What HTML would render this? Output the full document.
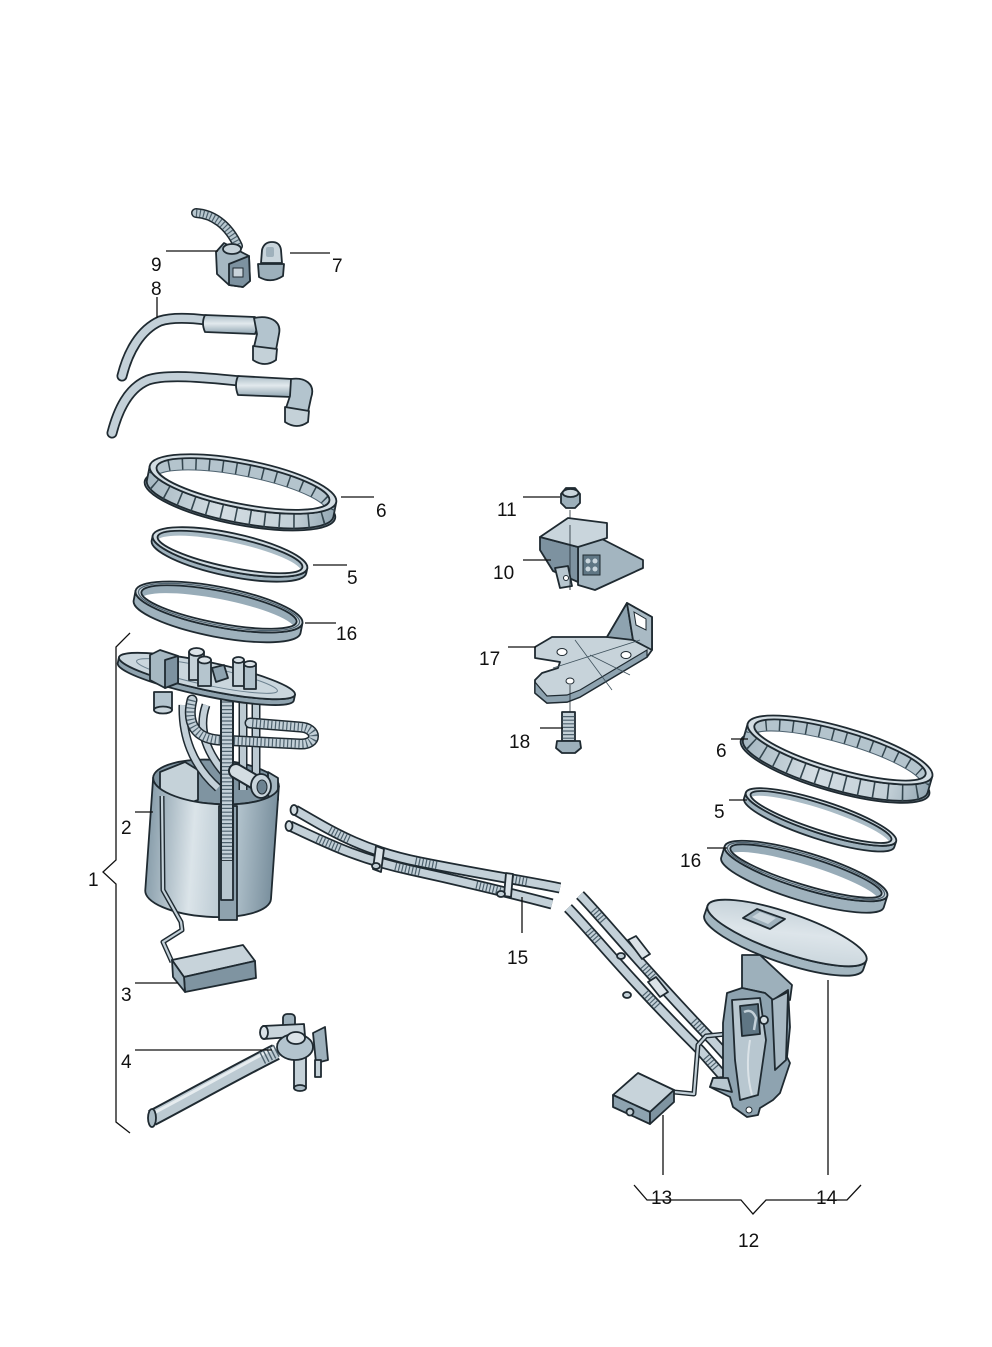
<!DOCTYPE html>
<html><head><meta charset="utf-8">
<style>
html,body{margin:0;padding:0;background:#fff}
svg{display:block}
.o{stroke:#1f2a31;stroke-width:1.8;stroke-linejoin:round;stroke-linecap:round}
.t{font-family:"Liberation Sans",sans-serif;font-size:19px;fill:#111}
.l{stroke:#111;stroke-width:1.3;fill:none}
</style></head><body>
<svg width="992" height="1347" viewBox="0 0 992 1347" xmlns="http://www.w3.org/2000/svg">
<defs>
<linearGradient id="cyl" x1="0" x2="1" y1="0" y2="0">
<stop offset="0" stop-color="#8a9fac"/><stop offset=".35" stop-color="#dbe4e9"/><stop offset=".7" stop-color="#b0c1cb"/><stop offset="1" stop-color="#7a909e"/></linearGradient>
<linearGradient id="vg" x1="0" x2="0" y1="0" y2="1">
<stop offset="0" stop-color="#a9bbc5"/><stop offset=".45" stop-color="#e2e9ed"/><stop offset="1" stop-color="#90a5b2"/></linearGradient>
<linearGradient id="disk" x1="0" x2="1" y1="0" y2="1">
<stop offset="0" stop-color="#bccad2"/><stop offset=".5" stop-color="#dde5ea"/><stop offset="1" stop-color="#c4d1d8"/></linearGradient>
<linearGradient id="band" x1="0" x2="1" y1="0" y2="0">
<stop offset="0" stop-color="#a5b7c1"/><stop offset=".4" stop-color="#d3dde3"/><stop offset=".8" stop-color="#c3d0d7"/><stop offset="1" stop-color="#94a8b4"/></linearGradient>

<clipPath id="c6a"><path d="M148,484 L148,499 A95 24 0 0 0 338,499 L338,484 A95 24 0 0 1 148,484 Z"/></clipPath>
<clipPath id="h6a"><ellipse cx="243" cy="484" rx="88" ry="20"/></clipPath>
<clipPath id="h5a"><ellipse cx="230" cy="552" rx="74" ry="15"/></clipPath>
<clipPath id="h16a"><ellipse cx="219" cy="607" rx="79" ry="16"/></clipPath>
<clipPath id="c6b"><path d="M744,750 L744,767 A96 23 0 0 0 936,767 L936,750 A96 23 0 0 1 744,750 Z"/></clipPath>
<clipPath id="h6b"><ellipse cx="840" cy="750" rx="89" ry="19"/></clipPath>
<clipPath id="h5b"><ellipse cx="821" cy="817" rx="74" ry="13"/></clipPath>
<clipPath id="h16b"><ellipse cx="806" cy="871" rx="79" ry="14"/></clipPath>
</defs>

<rect width="992" height="1347" fill="#fff"/>

<!-- Part 9 connector -->
<path d="M196,213 C212,214 228,224 238,246" fill="none" stroke="#1f2a31" stroke-width="10" stroke-linecap="round"/>
<path d="M196,213 C212,214 228,224 238,246" fill="none" stroke="#b9c8d0" stroke-width="7" stroke-linecap="round"/>
<path d="M196,213 C212,214 228,224 238,246" fill="none" stroke="#4d616d" stroke-width="7" stroke-dasharray="1.2 2.4"/>
<polygon class="o" fill="#a6b8c2" points="216,252 224,243 249,256 250,281 243,287 229,285 217,274"/>
<polygon class="o" fill="#7d92a0" points="229,264 249,256 250,281 243,287 229,285"/>
<rect x="233" y="268" width="10" height="9" fill="#c8d3da" stroke="#1f2a31" stroke-width="1"/>
<ellipse class="o" cx="232" cy="249" rx="9" ry="5" fill="#c6d2d9"/>

<!-- Part 7 cap -->
<path class="o" fill="#c9d5dc" d="M261,263 L262,250 Q264,242 272,242 Q280,242 281,250 L282,263 Z"/>
<rect x="266" y="247" width="8" height="10" rx="2" fill="#9fb1bc"/>
<path class="o" fill="#9db0bb" d="M258,264 L284,264 L283,276 Q271,284 259,277 Z"/>

<!-- Part 8 hoses -->
<path d="M122,376 C128,352 140,330 160,321 C172,317 190,318 207,320" fill="none" stroke="#1f2a31" stroke-width="11" stroke-linecap="round"/>
<path d="M122,376 C128,352 140,330 160,321 C172,317 190,318 207,320" fill="none" stroke="#c3d0d8" stroke-width="7.5" stroke-linecap="round"/>
<path class="o" fill="url(#vg)" d="M205,315 L255,317 Q259,325 255,334 L205,332 Q201,323 205,315 Z"/>
<path class="o" fill="#b3c4ce" d="M254,318 C268,315 282,320 279,334 L276,350 L254,347 L257,334 Z"/>
<path class="o" fill="#c4d1d8" d="M253,346 L277,349 L276,360 Q265,368 253,360 Z"/>

<path d="M112,433 C118,410 128,388 148,380 C166,374 200,377 240,381" fill="none" stroke="#1f2a31" stroke-width="11" stroke-linecap="round"/>
<path d="M112,433 C118,410 128,388 148,380 C166,374 200,377 240,381" fill="none" stroke="#c3d0d8" stroke-width="7.5" stroke-linecap="round"/>
<path class="o" fill="url(#vg)" d="M238,376 L292,379 Q296,388 292,397 L238,395 Q234,385 238,376 Z"/>
<path class="o" fill="#b3c4ce" d="M291,379 C305,377 316,384 311,398 L308,412 L286,408 L290,396 Z"/>
<path class="o" fill="#c4d1d8" d="M285,407 L309,411 L308,422 Q297,430 285,422 Z"/>

<!-- Ring 6 left -->
<g transform="rotate(11 243 484)">
<ellipse class="o" cx="243" cy="500" rx="97" ry="25" fill="#8fa3af"/>
<path class="o" fill="url(#band)" d="M148,484 L148,499 A95 24 0 0 0 338,499 L338,484 A95 24 0 0 1 148,484 Z"/>
<ellipse cx="243" cy="491.5" rx="95" ry="24" fill="none" stroke="#34464f" stroke-width="15" stroke-dasharray="1.6 13" clip-path="url(#c6a)"/>
<ellipse class="o" cx="243" cy="484" rx="95" ry="24" fill="#d3dde3"/>
<ellipse cx="243" cy="484" rx="88" ry="20" fill="#b4c4cd"/>
<ellipse cx="243" cy="490" rx="88" ry="20" fill="none" stroke="#34464f" stroke-width="12" stroke-dasharray="1.5 12" clip-path="url(#h6a)"/>
<ellipse cx="243" cy="496" rx="88" ry="20" fill="#fff" clip-path="url(#h6a)"/>
<ellipse cx="243" cy="496" rx="88" ry="20" fill="none" stroke="#4f6370" stroke-width="1" clip-path="url(#h6a)"/>
<ellipse class="o" cx="243" cy="484" rx="88" ry="20" fill="none"/>
</g>

<!-- Ring 5 left -->
<g transform="rotate(12 230 552)">
<path class="o" fill="#9fb2bd" d="M151,552 L151,557 A79 19 0 0 0 309,557 L309,552 A79 19 0 0 1 151,552 Z"/>
<ellipse class="o" cx="230" cy="552" rx="79" ry="19" fill="#cfdae0"/>
<ellipse cx="230" cy="552" rx="74" ry="15" fill="#a9bbc5"/>
<ellipse cx="230" cy="557" rx="74" ry="15" fill="#fff" clip-path="url(#h5a)"/>
<ellipse class="o" cx="230" cy="552" rx="74" ry="15" fill="none"/>
</g>

<!-- Ring 16 left -->
<g transform="rotate(11 219 607)">
<path class="o" fill="#9fb2bd" d="M134,607 L134,617 A85 20 0 0 0 304,617 L304,607 A85 20 0 0 1 134,607 Z"/>
<ellipse class="o" cx="219" cy="607" rx="85" ry="20" fill="#cbd6dd"/>
<ellipse cx="219" cy="607" rx="79" ry="16" fill="#98acb8"/>
<ellipse cx="219" cy="615" rx="79" ry="16" fill="#fff" clip-path="url(#h16a)"/>
<ellipse class="o" cx="219" cy="607" rx="79" ry="16" fill="none"/>
<ellipse cx="219" cy="607" rx="82" ry="18" fill="none" stroke="#4f6370" stroke-width="1.2"/>
</g>

<!-- Part 2 pump: cylinder interior -->
<g transform="rotate(4 216 782)">
<ellipse class="o" cx="216" cy="782" rx="63" ry="22" fill="#7f94a1"/>
</g>
<polygon class="o" fill="#c5d2d9" points="160,772 185,762 198,770 198,800 175,808 160,800"/>
<polygon class="o" fill="#a4b6c0" points="268,772 278,778 278,800 268,796"/>

<!-- hoses under flange -->
<path d="M183,705 C182,735 192,765 218,788" fill="none" stroke="#1f2a31" stroke-width="9"/>
<path d="M183,705 C182,735 192,765 218,788" fill="none" stroke="#c3d0d8" stroke-width="6"/>
<path d="M206,705 C198,728 205,752 228,777" fill="none" stroke="#1f2a31" stroke-width="9"/>
<path d="M206,705 C198,728 205,752 228,777" fill="none" stroke="#c3d0d8" stroke-width="6"/>
<path d="M243,700 V790 M256,700 V790" fill="none" stroke="#1f2a31" stroke-width="9"/>
<path d="M243,700 V790 M256,700 V790" fill="none" stroke="#bccad2" stroke-width="6"/>
<path d="M192,700 C186,724 196,738 218,740 L300,744 C318,745 318,728 300,727 L250,723" fill="none" stroke="#1f2a31" stroke-width="11" stroke-linecap="round"/>
<path d="M192,700 C186,724 196,738 218,740 L300,744 C318,745 318,728 300,727 L250,723" fill="none" stroke="#c3d0d8" stroke-width="8" stroke-linecap="round"/>
<path d="M192,700 C186,724 196,738 218,740 L300,744 C318,745 318,728 300,727 L250,723" fill="none" stroke="#4d616d" stroke-width="8" stroke-dasharray="1.2 2.6"/>

<!-- cylinder front wall -->
<g transform="rotate(4 216 782)">
<path class="o" fill="url(#cyl)" d="M153,782 L153,895 A63 22 0 0 0 279,895 L279,782 A63 22 0 0 1 153,782 Z"/>
</g>
<rect class="o" x="219" y="806" width="18" height="114" fill="#8ea2ae"/>
<rect class="o" x="221" y="860" width="12" height="40" fill="#b8c7cf"/>
<path d="M227,690 V860" stroke="#1f2a31" stroke-width="14"/>
<path d="M227,690 V860" stroke="#c3d0d8" stroke-width="10"/>
<path d="M227,690 V860" stroke="#4d616d" stroke-width="10" stroke-dasharray="1.2 2.6"/>
<!-- fitting -->
<path d="M236,771 L260,785" stroke="#1f2a31" stroke-width="16" stroke-linecap="round"/>
<path d="M236,771 L260,785" stroke="#d3dde2" stroke-width="12" stroke-linecap="round"/>
<ellipse class="o" cx="261" cy="786" rx="10" ry="12" fill="#c9d5dc"/>
<ellipse cx="262" cy="787" rx="5" ry="7" fill="#6d8391" stroke="#1f2a31" stroke-width="1"/>

<!-- pump flange -->
<g transform="rotate(12 207 676)">
<path class="o" fill="#8fa3af" d="M117,676 L117,682 A90 14 0 0 0 297,682 L297,676 A90 14 0 0 1 117,676 Z"/>
<ellipse class="o" cx="207" cy="676" rx="90" ry="14" fill="#cad6dd"/>
<ellipse cx="207" cy="676" rx="72" ry="9" fill="none" stroke="#6d8290" stroke-width="1"/>
</g>
<polygon class="o" fill="#a6b8c2" points="150,655 160,650 178,656 178,683 165,688 150,680"/>
<polygon class="o" fill="#7d92a0" points="165,660 178,656 178,683 165,688"/>
<rect class="o" x="189" y="652" width="15" height="28" fill="#c4d1d8"/>
<ellipse class="o" cx="196.5" cy="652" rx="7.5" ry="4" fill="#dbe3e8"/>
<rect class="o" x="198" y="660" width="13" height="26" fill="#b5c5ce"/>
<ellipse class="o" cx="204.5" cy="660" rx="6.5" ry="3.5" fill="#dbe3e8"/>
<polygon class="o" fill="#8ea3b0" points="212,668 224,665 228,678 216,682"/>
<rect class="o" x="233" y="660" width="11" height="26" fill="#c4d1d8"/>
<ellipse class="o" cx="238.5" cy="660" rx="5.5" ry="3" fill="#dbe3e8"/>
<rect class="o" x="244" y="664" width="12" height="25" fill="#b0c1cb"/>
<ellipse class="o" cx="250" cy="664" rx="6" ry="3" fill="#dbe3e8"/>
<rect class="o" x="154" y="692" width="18" height="18" fill="#b3c4ce"/>
<ellipse class="o" cx="163" cy="710" rx="9" ry="3.5" fill="#c8d4db"/>

<!-- Part 3 float -->
<polyline points="162,796 163,890 181,922 182,930 163,942 172,962" fill="none" stroke="#1f2a31" stroke-width="5" stroke-linejoin="round"/>
<polyline points="162,796 163,890 181,922 182,930 163,942 172,962" fill="none" stroke="#c3d0d8" stroke-width="2.2" stroke-linejoin="round"/>
<polygon class="o" fill="#c7d3da" points="172,960 243,945 255,961 184,977"/>
<polygon class="o" fill="#7f94a1" points="184,977 255,961 256,978 185,992"/>
<polygon class="o" fill="#9cafba" points="172,960 184,977 185,992 173,977"/>

<!-- Part 4 -->
<path d="M152,1118 C190,1098 240,1070 276,1052" fill="none" stroke="#1f2a31" stroke-width="17"/>
<path d="M152,1118 C190,1098 240,1070 276,1052" fill="none" stroke="#bccad2" stroke-width="13"/>
<path d="M152,1114 C190,1094 240,1066 274,1048" fill="none" stroke="#e6ecef" stroke-width="3"/>
<path d="M262,1058 L280,1049" stroke="#4d616d" stroke-width="13" stroke-dasharray="1.4 2.4"/>
<ellipse class="o" cx="152" cy="1118" rx="4" ry="9" fill="#aabbc4"/>
<rect class="o" x="283" y="1014" width="12" height="28" rx="4" fill="#9db0bb"/>
<path class="o" fill="#c9d5dc" d="M263,1026 L304,1024 L305,1036 L264,1039 Z"/>
<ellipse class="o" cx="264" cy="1032.5" rx="4" ry="6.5" fill="#dbe3e8"/>
<rect class="o" x="294" y="1055" width="12" height="33" fill="#c4d1d8"/>
<ellipse class="o" cx="300" cy="1088" rx="6" ry="3" fill="#a9bac4"/>
<ellipse class="o" cx="295" cy="1047" rx="18" ry="13" fill="#b3c4ce"/>
<ellipse class="o" cx="296" cy="1038" rx="9" ry="6" fill="#dbe3e8"/>
<polygon class="o" fill="#9db0bb" points="313,1033 325,1027 328,1060 316,1063"/>
<rect class="o" x="315" y="1060" width="6" height="17" fill="#c4d1d8"/>

<!-- Part 11 nut -->
<polygon class="o" fill="#9db0bb" points="561,494 566,488 575,488 580,494 580,503 575,508 566,508 561,503"/>
<ellipse class="o" cx="570.5" cy="493" rx="8" ry="4" fill="#c9d5dc"/>
<path d="M570,510 V590" stroke="#1f2a31" stroke-width="0.8"/>

<!-- Part 10 -->
<polygon class="o" fill="#a3b5c0" points="600,538 643,560 643,568 595,590 578,585 578,547"/>
<polygon class="o" fill="#7d92a0" points="540,537 578,547 578,582 553,571 540,550"/>
<polygon class="o" fill="#c9d5dc" points="540,537 568,518 607,523 607,538 578,547"/>
<rect x="583" y="555" width="17" height="20" fill="#5f7684" stroke="#1f2a31" stroke-width="1"/>
<circle cx="588" cy="561" r="2.5" fill="#c9d5dc"/><circle cx="595" cy="561" r="2.5" fill="#c9d5dc"/>
<circle cx="588" cy="569" r="2.5" fill="#c9d5dc"/><circle cx="595" cy="569" r="2.5" fill="#c9d5dc"/>
<polygon class="o" fill="#b7c6cf" points="555,568 568,566 572,586 560,588"/>
<circle cx="566" cy="578" r="2.5" fill="#fff" stroke="#1f2a31" stroke-width="1"/>
<path d="M570,525 V590" stroke="#1f2a31" stroke-width="0.8"/>

<!-- Part 17 -->
<polygon class="o" fill="#c7d3da" points="535,647 552,637 607,637 627,603 652,617 652,650 647,657 580,697 567,702 547,703 535,693 535,680 542,673 558,668 560,662 535,658"/>
<polygon fill="#8ea3b0" stroke="#1f2a31" stroke-width="1.2" points="535,682 535,693 547,703 567,702 580,697 647,657 647,650 580,690 567,695 547,696 540,688"/>
<polygon class="o" fill="#8ea3b0" points="607,637 627,603 633,640"/>
<polygon class="o" fill="#a9bac4" points="627,603 652,617 652,650 633,640"/>
<polygon fill="#fff" stroke="#1f2a31" stroke-width="1" points="634,612 646,619 646,630 636,625"/>
<path d="M575,640 L612,690 M553,668 L640,640 M590,655 L630,675" stroke="#3f525d" stroke-width="0.8" fill="none"/>
<ellipse cx="562" cy="652" rx="5" ry="3.5" fill="#fff" stroke="#1f2a31" stroke-width="1"/>
<ellipse cx="626" cy="655" rx="5" ry="3.5" fill="#fff" stroke="#1f2a31" stroke-width="1"/>
<ellipse cx="570" cy="681" rx="4" ry="3" fill="#fff" stroke="#1f2a31" stroke-width="1"/>
<path d="M570,685 V712" stroke="#1f2a31" stroke-width="0.8"/>

<!-- Part 18 bolt -->
<rect class="o" x="562" y="712" width="13" height="29" fill="#c4d1d8"/>
<path d="M568.5,716 V740" stroke="#4d616d" stroke-width="12" stroke-dasharray="1.2 2.4"/>
<polygon class="o" fill="#9db0bb" points="557,741 580,741 581,748 575,753 562,753 556,748"/>

<!-- Part 15 hose, segment 1 -->
<g fill="none">
<path d="M295,810 C330,830 360,850 420,862 S520,880 560,888" stroke="#1f2a31" stroke-width="11"/>
<path d="M295,810 C330,830 360,850 420,862 S520,880 560,888" stroke="#c3d0d8" stroke-width="7.5"/>
<path d="M295,810 C330,830 360,850 420,862 S520,880 560,888" stroke="#4d616d" stroke-width="7.5" stroke-dasharray="0 40 1.2 2.2 1.2 2.2 1.2 2.2 1.2 2.2 1.2 2.2 1.2 2.2 1.2 30"/>
<path d="M290,826 C325,842 355,858 410,870 S510,893 552,904" stroke="#1f2a31" stroke-width="11"/>
<path d="M290,826 C325,842 355,858 410,870 S510,893 552,904" stroke="#c3d0d8" stroke-width="7.5"/>
<path d="M290,826 C325,842 355,858 410,870 S510,893 552,904" stroke="#4d616d" stroke-width="7.5" stroke-dasharray="0 30 1.2 2.2 1.2 2.2 1.2 2.2 1.2 2.2 1.2 2.2 1.2 2.2 1.2 2.2 1.2 28"/>
</g>
<ellipse class="o" cx="294" cy="810" rx="3.5" ry="5" fill="#d3dde2"/>
<ellipse class="o" cx="289" cy="826" rx="3.5" ry="5" fill="#d3dde2"/>
<path class="o" fill="#dbe3e8" d="M376,846 L384,849 L381,872 L373,869 Z"/>
<ellipse class="o" cx="376" cy="866" rx="4" ry="3" fill="#c4d1d8"/>
<path class="o" fill="#dbe3e8" d="M506,873 L513,874 L511,897 L504,896 Z"/>
<ellipse class="o" cx="501" cy="894" rx="4" ry="3" fill="#c4d1d8"/>

<!-- Part 15 hose, segment 2 -->
<g fill="none">
<path d="M580,895 C600,915 640,965 712,1040 L730,1060" stroke="#1f2a31" stroke-width="11"/>
<path d="M580,895 C600,915 640,965 712,1040 L730,1060" stroke="#c3d0d8" stroke-width="7.5"/>
<path d="M580,895 C600,915 640,965 712,1040 L730,1060" stroke="#4d616d" stroke-width="7.5" stroke-dasharray="0 20 1.2 2.2 1.2 2.2 1.2 2.2 1.2 2.2 1.2 60 1.2 2.2 1.2 2.2 1.2 2.2 1.2 2.2 1.2 40"/>
<path d="M568,908 C590,930 625,975 700,1050 L722,1075" stroke="#1f2a31" stroke-width="11"/>
<path d="M568,908 C590,930 625,975 700,1050 L722,1075" stroke="#c3d0d8" stroke-width="7.5"/>
<path d="M568,908 C590,930 625,975 700,1050 L722,1075" stroke="#4d616d" stroke-width="7.5" stroke-dasharray="0 30 1.2 2.2 1.2 2.2 1.2 2.2 1.2 2.2 1.2 70 1.2 2.2 1.2 2.2 1.2 2.2 1.2 2.2 1.2 2.2 1.2 40"/>
</g>
<path class="o" fill="#dbe3e8" d="M628,940 L636,936 L650,954 L642,959 Z"/>
<ellipse class="o" cx="621" cy="956" rx="4" ry="3" fill="#c4d1d8"/>
<path class="o" fill="#dbe3e8" d="M648,982 L656,977 L668,992 L660,997 Z"/>
<ellipse class="o" cx="627" cy="995" rx="4" ry="3" fill="#c4d1d8"/>

<!-- Part 13 float -->
<polyline points="674,1092 694,1094 698,1045 706,1036 726,1034" fill="none" stroke="#1f2a31" stroke-width="5" stroke-linejoin="round"/>
<polyline points="674,1092 694,1094 698,1045 706,1036 726,1034" fill="none" stroke="#c3d0d8" stroke-width="2.2" stroke-linejoin="round"/>
<polygon class="o" fill="#c7d3da" points="613,1095 638,1073 674,1090 650,1112"/>
<polygon class="o" fill="#8ea3b0" points="613,1095 650,1112 650,1124 613,1107"/>
<polygon class="o" fill="#7f94a1" points="650,1112 674,1090 674,1102 650,1124"/>
<circle class="o" cx="630" cy="1112" r="3.5" fill="#c4d1d8"/>

<!-- Part 14 sender body -->
<polygon class="o" fill="#9db0bb" points="742,955 760,955 792,985 790,1000 773,1000 765,993 742,988"/>
<polygon class="o" fill="#8ea3b0" points="723,1023 727,993 742,988 765,993 773,1000 788,990 790,1027 787,1057 790,1063 780,1093 773,1100 760,1108 758,1115 747,1117 733,1107 730,1097 710,1087 713,1078 723,1077"/>
<polygon class="o" fill="#b8c7d0" points="732,1000 760,998 766,1040 758,1095 740,1100 735,1060"/>
<path class="o" fill="#5f7684" d="M740,1006 L758,1004 L760,1034 L742,1036 Z"/>
<path d="M744,1012 Q752,1008 756,1018 L754,1030" stroke="#c3d0d8" stroke-width="2.5" fill="none"/>
<circle class="o" cx="764" cy="1020" r="4" fill="#d3dde2"/>
<polygon class="o" fill="#a9bac4" points="772,1000 788,992 786,1060 775,1070"/>
<path d="M750,1040 Q745,1070 752,1095" stroke="#dbe3e8" stroke-width="2" fill="none"/>
<polygon class="o" fill="#b8c7d0" points="710,1087 713,1078 728,1078 732,1092"/>
<circle cx="749" cy="1110" r="3" fill="#fff" stroke="#1f2a31" stroke-width="1"/>

<!-- Flange 14 disk -->
<g transform="rotate(19 787 933)">
<path class="o" fill="#a3b6c0" d="M703,933 L703,943 A84 20 0 0 0 871,943 L871,933 A84 20 0 0 1 703,933 Z"/>
<ellipse class="o" cx="787" cy="933" rx="84" ry="20" fill="url(#disk)"/>
</g>
<polygon class="o" fill="#9fb1bc" points="743,918 757,909 785,919 770,929"/>
<polygon fill="#c9d5dc" points="752,917 760,912 776,918 768,924"/>

<!-- Ring 16 right -->
<g transform="rotate(17 806 871)">
<path class="o" fill="#9fb2bd" d="M721,871 L721,883 A85 18 0 0 0 891,883 L891,871 A85 18 0 0 1 721,871 Z"/>
<ellipse class="o" cx="806" cy="871" rx="85" ry="18" fill="#cbd6dd"/>
<ellipse cx="806" cy="871" rx="79" ry="14" fill="#98acb8"/>
<ellipse cx="806" cy="879" rx="79" ry="14" fill="#fff" clip-path="url(#h16b)"/>
<ellipse class="o" cx="806" cy="871" rx="79" ry="14" fill="none"/>
<ellipse cx="806" cy="871" rx="82" ry="16" fill="none" stroke="#4f6370" stroke-width="1.2"/>
</g>

<!-- Ring 5 right -->
<g transform="rotate(18 821 817)">
<path class="o" fill="#9fb2bd" d="M742,817 L742,823 A79 16 0 0 0 900,823 L900,817 A79 16 0 0 1 742,817 Z"/>
<ellipse class="o" cx="821" cy="817" rx="79" ry="16" fill="#cfdae0"/>
<ellipse cx="821" cy="817" rx="74" ry="13" fill="#a9bbc5"/>
<ellipse cx="821" cy="822" rx="74" ry="13" fill="#fff" clip-path="url(#h5b)"/>
<ellipse class="o" cx="821" cy="817" rx="74" ry="13" fill="none"/>
</g>

<!-- Ring 6 right -->
<g transform="rotate(16 840 750)">
<ellipse class="o" cx="840" cy="768" rx="98" ry="24" fill="#8fa3af"/>
<path class="o" fill="url(#band)" d="M744,750 L744,767 A96 23 0 0 0 936,767 L936,750 A96 23 0 0 1 744,750 Z"/>
<ellipse cx="840" cy="758.5" rx="96" ry="23" fill="none" stroke="#34464f" stroke-width="17" stroke-dasharray="1.6 13" clip-path="url(#c6b)"/>
<ellipse class="o" cx="840" cy="750" rx="96" ry="23" fill="#d3dde3"/>
<ellipse cx="840" cy="750" rx="89" ry="19" fill="#b4c4cd"/>
<ellipse cx="840" cy="756" rx="89" ry="19" fill="none" stroke="#34464f" stroke-width="12" stroke-dasharray="1.5 12" clip-path="url(#h6b)"/>
<ellipse cx="840" cy="762" rx="89" ry="19" fill="#fff" clip-path="url(#h6b)"/>
<ellipse cx="840" cy="762" rx="89" ry="19" fill="none" stroke="#4f6370" stroke-width="1" clip-path="url(#h6b)"/>
<ellipse class="o" cx="840" cy="750" rx="89" ry="19" fill="none"/>
</g>

<!-- leader lines -->
<path class="l" d="M166,251 H218 M290,253 H330 M157,297 V318 M341,497 H374 M313,565 H347 M305,623 H336 M523,497 H560 M523,560 H551 M508,647 H536 M540,728 H563 M731,739 H748 M729,800 H747 M707,848 H727 M135,812 H153 M135,983 H178 M135,1050 H272 M522,897 V933 M663,1115 V1175 M828,980 V1175"/>
<path class="l" d="M634,1185 L647,1200 H741 L753,1214 L766,1200 H847 L861,1185"/>
<path class="l" d="M130,633 L116,647 V860 L103,872 L116,884 V1122 L130,1133"/>

<!-- labels -->
<g class="t">
<text x="151" y="271">9</text>
<text x="332" y="272">7</text>
<text x="151" y="295">8</text>
<text x="376" y="517">6</text>
<text x="347" y="584">5</text>
<text x="336" y="640">16</text>
<text x="497" y="516">11</text>
<text x="493" y="579">10</text>
<text x="479" y="665">17</text>
<text x="509" y="748">18</text>
<text x="716" y="757">6</text>
<text x="714" y="818">5</text>
<text x="680" y="867">16</text>
<text x="121" y="834">2</text>
<text x="88" y="886">1</text>
<text x="121" y="1001">3</text>
<text x="121" y="1068">4</text>
<text x="507" y="964">15</text>
<text x="651" y="1204">13</text>
<text x="816" y="1204">14</text>
<text x="738" y="1247">12</text>
</g>
</svg>
</body></html>
